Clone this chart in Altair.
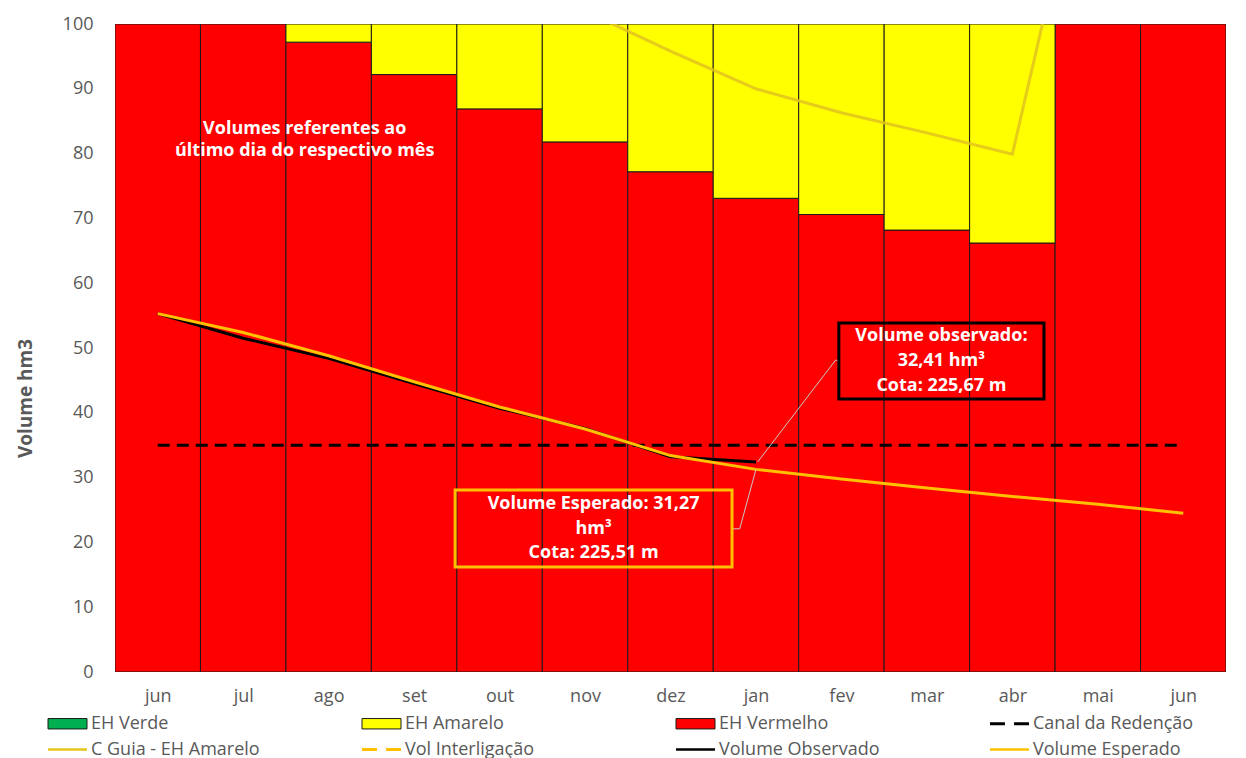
import altair as alt
import pandas as pd

# ---------------- data ----------------
months = ["jun", "jul", "ago", "set", "out", "nov", "dez", "jan", "fev", "mar", "abr", "mai", "jun"]
idx = list(range(13))
eh_verde = [0, 0, 0, 0, 0, 0, 0, 0, 0, 0, 0, 0, 0]
eh_vermelho = [100, 100, 97.2, 92.2, 86.9, 81.8, 77.2, 73.1, 70.6, 68.2, 66.2, 100, 100]
eh_amarelo = [0, 0, 2.8, 7.8, 13.1, 18.2, 22.8, 26.9, 29.4, 31.8, 33.8, 0, 0]
volume_esperado = [55.3, 52.4, 48.8, 44.8, 40.9, 37.5, 33.4, 31.27, 29.8, 28.4, 27.1, 25.9, 24.5]
volume_observado = [55.3, 51.5, 48.4, 44.5, 40.7, 37.6, 33.2, 32.41]
c_guia_idx = [5, 6, 7, 8, 9, 10, 11]
c_guia = [102.0, 95.8, 90.0, 86.3, 83.2, 79.9, 137.0]
canal_redencao = [35, 35, 35, 35, 35, 35, 35, 35, 35, 35, 35, 35, 35]

legend_names = ["EH Verde", "EH Amarelo", "EH Vermelho", "Canal da Redenção",
                "C Guia - EH Amarelo", "Vol Interligação", "Volume Observado", "Volume Esperado"]
legend_fill = ["#00B050", "#FFFF00", "#FF0000", "#000000", "#E6C619", "#FFC000", "#000000", "#FFC000"]
legend_stroke = ["#1a1a1a", "#1a1a1a", "#1a1a1a", "transparent", "transparent", "transparent", "transparent", "transparent"]
RECT = "M-1.5,-0.4H1.5V0.4H-1.5Z"
LINE = "M-1.5,-0.1H1.5V0.1H-1.5Z"
DASH = "M-1.5,-0.11H-0.35V0.11H-1.5Z M0.35,-0.11H1.5V0.11H0.35Z"
legend_shapes = [RECT, RECT, RECT, DASH, LINE, DASH, LINE, LINE]

# annotations (data units)
obs_box = {"x": 7.97, "x2": 10.37, "y": 53.86, "y2": 42.13}
esp_box = {"x": 3.48, "x2": 6.72, "y": 28.09, "y2": 16.2}

box_text = ["Volume observado:", "32,41 hm³", "Cota: 225,67 m",
            "Volume Esperado: 31,27", "hm³", "Cota: 225,51 m"]
box_text_x = [9.17, 9.17, 9.17, 5.1, 5.1, 5.1]
box_text_y = [51.85, 48.0, 44.1, 25.85, 22.0, 18.4]

note_text = ["Volumes referentes ao", "último dia do respectivo mês"]
note_text_x = [1.72, 1.72]
note_text_y = [83.8, 80.4]

leader_id = [0, 0, 0, 1, 1, 1]
leader_x = [7.02, 7.93, 7.97, 7.0, 6.81, 6.72]
leader_y = [32.41, 48.1, 48.1, 31.27, 22.1, 22.1]

FONT = "Open Sans"
GRAY = "#595959"

# ---------------- tables ----------------
df_bars = pd.DataFrame({"i": idx, "verm": eh_vermelho, "amar": eh_amarelo, "verde": eh_verde})
df_esp = pd.DataFrame({"i": idx, "v": volume_esperado})
df_obs = pd.DataFrame({"i": idx[:len(volume_observado)], "v": volume_observado})
df_guia = pd.DataFrame({"i": c_guia_idx, "v": c_guia})
df_canal = pd.DataFrame({"i": idx, "v": canal_redencao})
df_box_obs = pd.DataFrame([obs_box])
df_box_esp = pd.DataFrame([esp_box])
df_btext = pd.DataFrame({"t": box_text, "x": box_text_x, "y": box_text_y})
df_note = pd.DataFrame({"t": note_text, "x": note_text_x, "y": note_text_y})
df_lead = pd.DataFrame({"id": leader_id, "x": leader_x, "y": leader_y, "o": list(range(len(leader_x)))})
df_leg = pd.DataFrame({"serie": legend_names})

months_js = "[" + ",".join("'" + m + "'" for m in months) + "]"

xscale = alt.Scale(domain=[-0.5, 12.5], nice=False, zero=False)
yscale = alt.Scale(domain=[0, 100], nice=False)

xaxis = alt.Axis(values=idx, labelExpr=months_js + "[datum.value]", title=None, grid=False,
                 domain=False, ticks=False, labelFont=FONT, labelFontSize=18, labelColor=GRAY,
                 labelPadding=15, labelAngle=0)
yaxis = alt.Axis(values=list(range(0, 101, 10)), title="Volume hm3", grid=False, domain=False,
                 ticks=False, labelFont=FONT, labelFontSize=18, labelColor=GRAY, labelPadding=22,
                 titleFont=FONT, titleFontSize=19, titleFontWeight="bold", titleColor=GRAY,
                 titleX=-84, titleY=374, titleBaseline="alphabetic")

base_bars = alt.Chart(df_bars).transform_calculate(
    x0="datum.i - 0.5", x1="datum.i + 0.5", top="datum.verm + datum.amar")

red = base_bars.mark_rect(color="#FF0000", stroke="#1a1a1a", strokeWidth=1, clip=True).encode(
    x=alt.X("x0:Q", scale=xscale, axis=xaxis),
    x2="x1:Q",
    y=alt.Y("verm:Q", scale=yscale, axis=yaxis),
    y2=alt.datum(0),
)
yellow = base_bars.transform_filter("datum.amar > 0").mark_rect(
    color="#FFFF00", stroke="#1a1a1a", strokeWidth=1, clip=True).encode(
    x=alt.X("x0:Q", scale=xscale),
    x2="x1:Q",
    y=alt.Y("verm:Q", scale=yscale),
    y2="top:Q",
)

def line_layer(df, color, width, dash=None, opacity=1.0):
    kw = dict(color=color, strokeWidth=width, clip=True, opacity=opacity)
    if dash:
        kw["strokeDash"] = dash
    return alt.Chart(df).mark_line(**kw).encode(
        x=alt.X("i:Q", scale=xscale),
        y=alt.Y("v:Q", scale=yscale),
    )

guia = line_layer(df_guia, "#E0C21E", 3, opacity=0.85)
canal = line_layer(df_canal, "#000000", 3, dash=[12, 7])
obs = line_layer(df_obs, "#000000", 3)
esp = line_layer(df_esp, "#FFC000", 3)

lead = alt.Chart(df_lead).mark_line(color="#C8C8C8", strokeWidth=1).encode(
    x=alt.X("x:Q", scale=xscale),
    y=alt.Y("y:Q", scale=yscale),
    detail="id:N",
    order="o:Q",
)

def box_layer(df, color):
    return alt.Chart(df).mark_rect(fillOpacity=0, fill="#FF0000", stroke=color, strokeWidth=3).encode(
        x=alt.X("x:Q", scale=xscale),
        x2="x2:Q",
        y=alt.Y("y:Q", scale=yscale),
        y2="y2:Q",
    )

box_obs = box_layer(df_box_obs, "#000000")
box_esp = box_layer(df_box_esp, "#FFC000")

def text_layer(df, size):
    return alt.Chart(df).mark_text(font=FONT, fontWeight="bold", color="white", fontSize=size,
                                   align="center", baseline="middle").encode(
        x=alt.X("x:Q", scale=xscale),
        y=alt.Y("y:Q", scale=yscale),
        text="t:N",
    )

btext = text_layer(df_btext, 18)
note = text_layer(df_note, 18)

leg = alt.Legend(title=None, orient="none", legendX=-61, legendY=686, columns=4,
                 direction="horizontal", gridAlign="all", columnPadding=100, rowPadding=3,
                 symbolSize=676, symbolStrokeWidth=1, labelFont=FONT, labelFontSize=18,
                 labelColor=GRAY, labelOffset=10, labelLimit=300, padding=0)
legend_layer = alt.Chart(df_leg).mark_point(filled=True, size=0, opacity=1).encode(
    fill=alt.Fill("serie:N", scale=alt.Scale(domain=legend_names, range=legend_fill), legend=leg),
    stroke=alt.Stroke("serie:N", scale=alt.Scale(domain=legend_names, range=legend_stroke), legend=leg),
    shape=alt.Shape("serie:N", scale=alt.Scale(domain=legend_names, range=legend_shapes), legend=leg),
)

chart = alt.layer(red, yellow, guia, canal, obs, esp, lead, box_obs, box_esp, btext, note,
                  legend_layer).properties(
    width=1111, height=648,
    padding={"left": 8, "top": 7, "right": 5, "bottom": 0},
).configure_view(stroke=None)

chart.save("out.html", embed_options={"renderer": "svg", "actions": False})
